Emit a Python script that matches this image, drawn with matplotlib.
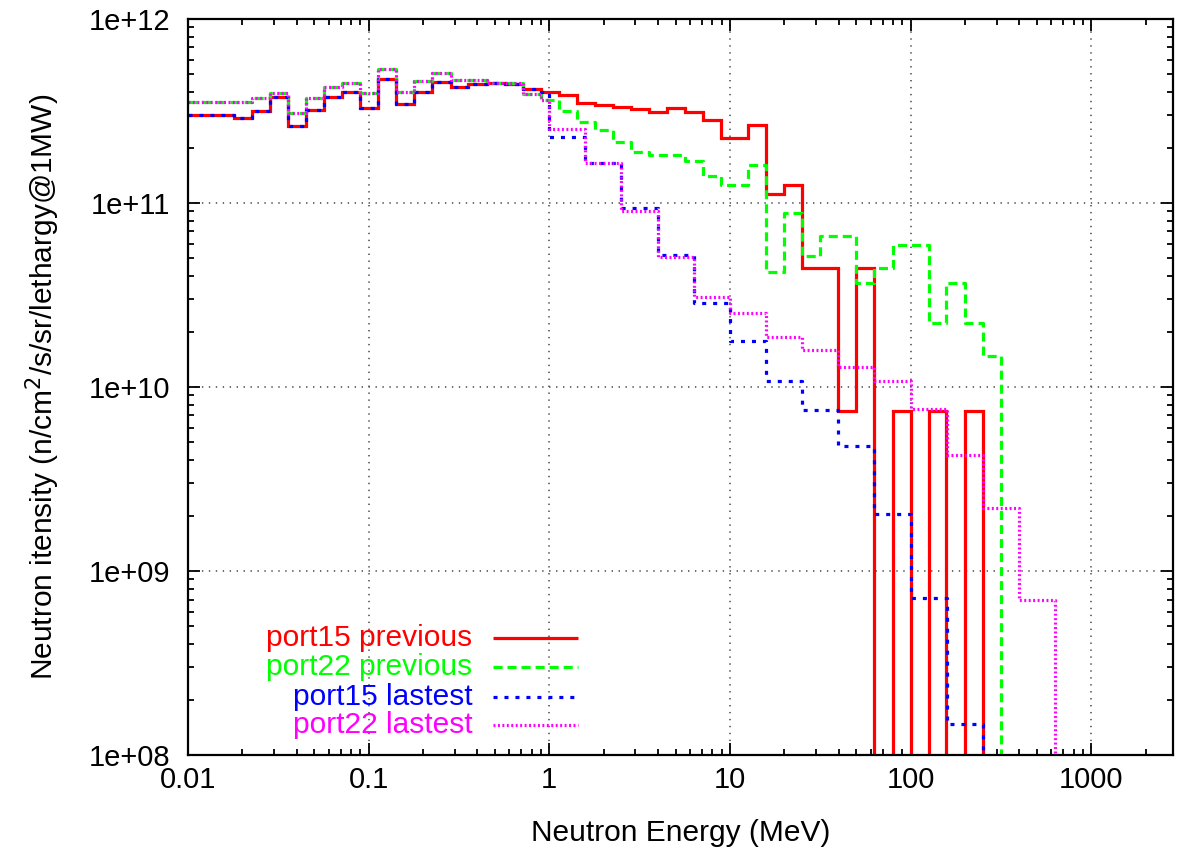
import numpy as np
import matplotlib.pyplot as plt
from matplotlib.ticker import LogLocator, NullFormatter, FixedLocator, FixedFormatter

plt.rcParams['font.family'] = ['Liberation Sans', 'DejaVu Sans']
plt.rcParams['lines.scale_dashes'] = False

# bin edges (MeV) and intensities (n/cm2/s/sr/lethargy@1MW)
p15_prev_e = [0.01, 0.0179, 0.0225, 0.0284, 0.0357, 0.045, 0.0566, 0.0713, 0.0897, 0.113,
              0.142, 0.179, 0.225, 0.284, 0.357, 0.45, 0.566, 0.713, 0.897, 1.13,
              1.42, 1.79, 2.25, 2.84, 3.57, 4.5, 5.66, 7.13, 8.97, 12.6,
              15.8, 20.0, 25.1, 39.8, 50.1, 63.1, 79.4, 100, 126, 158, 200, 251]
p15_prev = [3.01e11, 2.90e11, 3.16e11, 3.77e11, 2.62e11, 3.20e11, 3.77e11, 4.01e11, 3.28e11,
            4.72e11, 3.45e11, 4.01e11, 4.54e11, 4.27e11, 4.43e11, 4.49e11, 4.43e11, 4.17e11,
            4.01e11, 3.86e11, 3.50e11, 3.41e11, 3.33e11, 3.24e11, 3.12e11, 3.28e11, 3.12e11,
            2.83e11, 2.26e11, 2.65e11, 1.12e11, 1.25e11, 4.43e10, 7.4e9, 4.43e10,
            0, 7.4e9, 0, 7.4e9, 0, 7.4e9]

p22_prev_e = [0.01, 0.0225, 0.0284, 0.0357, 0.045, 0.0566, 0.0713, 0.0897, 0.113,
              0.142, 0.179, 0.225, 0.284, 0.357, 0.45, 0.566, 0.713, 0.897, 1.13,
              1.42, 1.79, 2.25, 2.84, 3.57, 4.5, 5.66, 7.13, 8.97, 12.6,
              15.8, 20.0, 25.1, 31.6, 39.8, 50.1, 63.1, 79.4, 100, 126, 158, 200, 251, 316]
p22_prev = [3.54e11, 3.72e11, 3.96e11, 3.08e11, 3.72e11, 4.27e11, 4.49e11, 3.96e11,
            5.35e11, 4.01e11, 4.60e11, 5.09e11, 4.66e11, 4.66e11, 4.49e11, 4.49e11, 3.91e11,
            3.63e11, 3.16e11, 2.76e11, 2.49e11, 2.15e11, 1.89e11, 1.82e11, 1.82e11, 1.69e11,
            1.40e11, 1.25e11, 1.61e11, 4.22e10, 8.83e10, 5.15e10, 6.62e10, 6.62e10, 3.67e10,
            4.43e10, 5.9e10, 5.9e10, 2.23e10, 3.67e10, 2.23e10, 1.47e10]

p15_last_e = [0.01, 0.0179, 0.0225, 0.0284, 0.0357, 0.045, 0.0566, 0.0713, 0.0897, 0.113,
              0.142, 0.179, 0.225, 0.284, 0.357, 0.45, 0.566, 0.713, 0.897, 1.0,
              1.585, 2.51, 3.98, 6.31, 10, 15.85, 25.1, 39.8, 63.1, 100, 158.5, 251]
p15_last = [3.01e11, 2.90e11, 3.16e11, 3.77e11, 2.62e11, 3.20e11, 3.77e11, 4.01e11, 3.28e11,
            4.72e11, 3.45e11, 4.01e11, 4.54e11, 4.27e11, 4.43e11, 4.49e11, 4.43e11, 4.17e11,
            4.01e11, 2.28e11, 1.65e11, 9.4e10, 5.21e10, 2.86e10, 1.78e10, 1.08e10, 7.5e9,
            4.78e9, 2.04e9, 7.1e8, 1.47e8]

p22_last_e = [0.01, 0.0225, 0.0284, 0.0357, 0.045, 0.0566, 0.0713, 0.0897, 0.113,
              0.142, 0.179, 0.225, 0.284, 0.357, 0.45, 0.566, 0.713, 0.897, 1.0,
              1.585, 2.51, 3.98, 6.31, 10, 15.85, 25.1, 39.8, 63.1, 100, 158.5, 251, 398, 631]
p22_last = [3.54e11, 3.72e11, 3.96e11, 3.08e11, 3.72e11, 4.27e11, 4.49e11, 3.96e11,
            5.35e11, 4.01e11, 4.60e11, 5.09e11, 4.66e11, 4.66e11, 4.49e11, 4.49e11, 3.91e11,
            3.63e11, 2.52e11, 1.65e11, 9.05e10, 5.09e10, 3.08e10, 2.52e10, 1.87e10, 1.59e10,
            1.28e10, 1.08e10, 7.6e9, 4.27e9, 2.2e9, 6.95e8]

series = [
    ('port15 previous', p15_prev_e, p15_prev, '#ff0000', '-'),
    ('port22 previous', p22_prev_e, p22_prev, '#00ff00', (0, (6.5, 3.6))),
    ('port15 lastest', p15_last_e, p15_last, '#0000ff', (0, (2.9, 5.0))),
    ('port22 lastest', p22_last_e, p22_last, '#ff00ff', (0, (1.4, 1.8))),
]

fig = plt.figure(figsize=(11.77, 8.51), dpi=100)
ax = fig.add_axes([0.1597, 0.1128, 0.8368, 0.8649])
ax.set_xscale('log', nonpositive='clip')
ax.set_yscale('log', nonpositive='clip')

for lab, e, v, c, ls in series:
    ax.plot(e, list(v) + [0.0], drawstyle='steps-post', color=c, ls=ls, lw=2.3,
            dash_capstyle='butt', solid_capstyle='butt', solid_joinstyle='miter')

ax.set_xlim(0.01, 2830)
ax.set_ylim(1e8, 1e12)

ax.xaxis.set_major_locator(FixedLocator([0.01, 0.1, 1, 10, 100, 1000]))
ax.xaxis.set_major_formatter(FixedFormatter(['0.01', '0.1', '1', '10', '100', '1000']))
ax.xaxis.set_minor_locator(LogLocator(base=10, subs=np.arange(2, 10), numticks=20))
ax.xaxis.set_minor_formatter(NullFormatter())
ax.yaxis.set_major_locator(FixedLocator([1e8, 1e9, 1e10, 1e11, 1e12]))
ax.yaxis.set_major_formatter(FixedFormatter(['1e+08', '1e+09', '1e+10', '1e+11', '1e+12']))
ax.yaxis.set_minor_locator(LogLocator(base=10, subs=np.arange(2, 10), numticks=20))
ax.yaxis.set_minor_formatter(NullFormatter())

ax.tick_params(which='both', direction='in', top=True, right=True, width=1.3, colors='black')
ax.tick_params(which='major', length=8.5, labelsize=21)
ax.tick_params(axis='y', which='major', pad=13)
ax.tick_params(axis='x', which='major', pad=8)
ax.tick_params(which='minor', length=4.5)
for s in ax.spines.values():
    s.set_linewidth(1.6)

ax.grid(True, which='major', color='#555555', ls=(0, (1, 4)), lw=1.2)
ax.set_axisbelow(True)

ax.set_xlabel('Neutron Energy (MeV)', fontsize=21.5, labelpad=18)
ax.set_ylabel('Neutron itensity (n/cm$^2$/s/sr/lethargy@1MW)', fontsize=21.5, labelpad=19)

# key
key_y = [0.159, 0.120, 0.079, 0.041]
for (lab, e, v, c, ls), yk in zip(series, key_y):
    ax.text(0.289, yk, lab, transform=ax.transAxes, ha='right', va='center',
            color=c, fontsize=21.5)
    ax.plot([0.3096, 0.396], [yk, yk], transform=ax.transAxes, color=c, ls=ls, lw=2.3,
            dash_capstyle='butt', solid_capstyle='butt')

fig.savefig('out.png', dpi=100)
